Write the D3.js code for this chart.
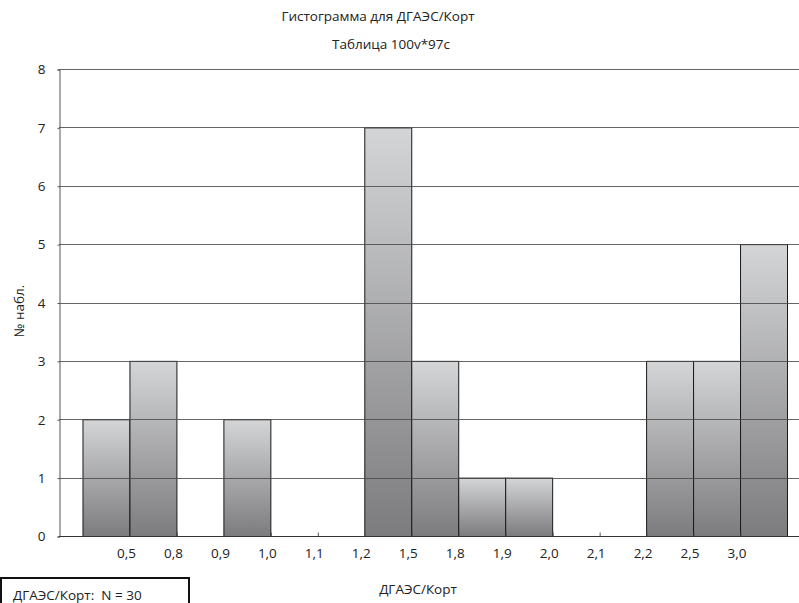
<!DOCTYPE html>
<html>
<head>
<meta charset="utf-8">
<script src="https://cdn.jsdelivr.net/npm/d3@7"></script>
<style>
  body { margin: 0; background: #fff; }
  text { font-family: "Open Sans", "Noto Sans", sans-serif; fill: #222; white-space: pre; }
</style>
</head>
<body>
<div id="chart"></div>
<script>
// Histogramme - comptes par classe
const counts = [2, 3, 0, 2, 0, 0, 7, 3, 1, 1, 0, 0, 3, 3, 5]
const binLabels = ["0,5", "0,8", "0,9", "1,0", "1,1", "1,2", "1,5", "1,8", "1,9", "2,0", "2,1", "2,2", "2,5", "3,0"]
const yTicks = [0, 1, 2, 3, 4, 5, 6, 7, 8]

const width = 799, height = 603
const fs = "13.5px"

const svg = d3.select("#chart").append("svg")
  .attr("width", width)
  .attr("height", height)

// Dégradé vertical des barres
const grad = svg.append("defs").append("linearGradient")
  .attr("id", "barGrad")
  .attr("x1", 0).attr("y1", 0).attr("x2", 0).attr("y2", 1)
grad.append("stop").attr("offset", "0%").attr("stop-color", "#d4d5d7")
grad.append("stop").attr("offset", "100%").attr("stop-color", "#7c7c7f")

const x = d3.scaleLinear().domain([-0.5, 15]).range([59, 787])
const y = d3.scaleLinear().domain([0, 8]).range([536, 69])

// Barres
svg.append("g")
  .selectAll("rect")
  .data(counts.map((c, i) => ({i: i, c: c})).filter(d => d.c > 0))
  .join("rect")
    .attr("x", d => x(d.i) + 0.5)
    .attr("y", d => y(d.c) + 0.5)
    .attr("width", d => x(d.i + 1) - x(d.i))
    .attr("height", d => y(0) - y(d.c))
    .attr("fill", "url(#barGrad)")
    .attr("stroke", "#1a1a1a")
    .attr("stroke-width", 1)

// Lignes de grille (par-dessus les barres)
svg.append("g")
  .selectAll("line")
  .data(yTicks.filter(t => t > 0))
  .join("line")
    .attr("x1", 59).attr("x2", width)
    .attr("y1", d => Math.round(y(d)) + 0.5)
    .attr("y2", d => Math.round(y(d)) + 0.5)
    .attr("stroke", "#4a4a4a")
    .attr("stroke-opacity", 0.85)

// Axe Y
const yAxis = svg.append("g")
  .attr("transform", "translate(59.5,0.5)")
  .call(d3.axisLeft(y).tickValues(yTicks).tickSize(2).tickPadding(12).tickFormat(d3.format("d")))
yAxis.select(".domain").attr("stroke", "#555")
yAxis.selectAll(".tick line").attr("stroke", "#555")
yAxis.selectAll("text").style("font-size", fs).attr("fill", "#222")

// Axe X
const xAxis = svg.append("g")
  .attr("transform", "translate(0.5," + (y(0) + 0.5) + ")")
  .call(d3.axisBottom(x).tickValues(d3.range(1, 15)).tickSize(0).tickPadding(12)
    .tickFormat((d, i) => binLabels[i]))
xAxis.select(".domain").remove()
xAxis.selectAll("text").attr("dx", -4).style("font-size", fs).attr("fill", "#222")
xAxis.selectAll(".tick").append("line")
  .attr("y1", -4).attr("y2", 0).attr("stroke", "#555")
svg.append("line")
  .attr("x1", 59).attr("x2", width)
  .attr("y1", y(0) + 0.5).attr("y2", y(0) + 0.5)
  .attr("stroke", "#333")

// Titres
svg.append("text").attr("x", 378).attr("y", 21).attr("text-anchor", "middle")
  .style("font-size", fs).text("Гистограмма для ДГАЭС/Корт")
svg.append("text").attr("x", 391).attr("y", 49).attr("text-anchor", "middle")
  .style("font-size", fs).text("Таблица 100v*97c")
svg.append("text").attr("x", 418).attr("y", 594).attr("text-anchor", "middle")
  .style("font-size", fs).text("ДГАЭС/Корт")
svg.append("text")
  .attr("transform", "translate(24,311) rotate(-90)")
  .attr("text-anchor", "middle")
  .style("font-size", fs).text("№ набл.")

// Légende
svg.append("rect")
  .attr("x", 1).attr("y", 578).attr("width", 188).attr("height", 30)
  .attr("fill", "#fff").attr("stroke", "#111").attr("stroke-width", 2)
svg.append("text").attr("x", 13).attr("y", 600)
  .style("font-size", fs).text("ДГАЭС/Корт:  N = 30")
</script>
</body>
</html>
